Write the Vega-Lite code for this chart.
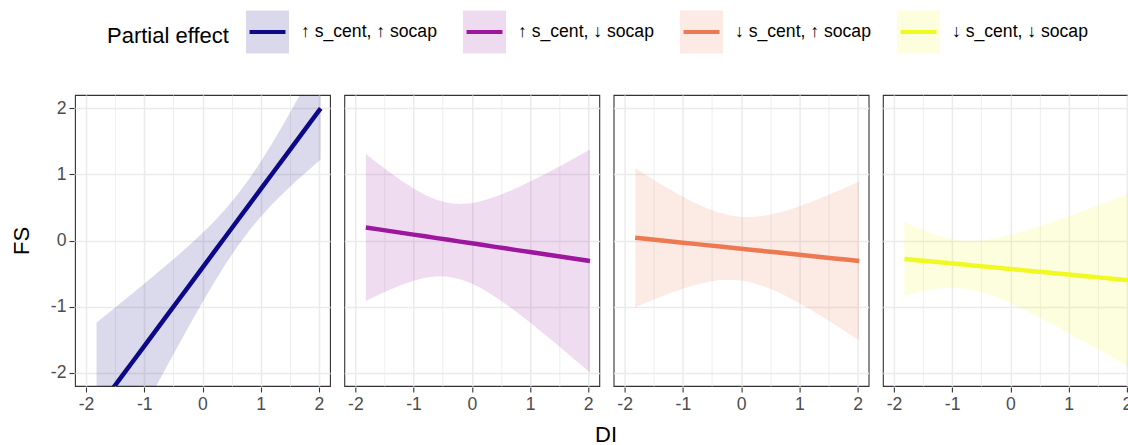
{
  "$schema": "https://vega.github.io/schema/vega-lite/v6.json",
  "background": "white",
  "padding": {"left": 10, "top": 10, "right": 0, "bottom": 0},
  "data": {"values": [
    {"g": "↑ s_cent, ↑ socap", "DI": -1.82, "FS": -2.569, "lo": -3.899, "hi": -1.239},
    {"g": "↑ s_cent, ↑ socap", "DI": -1.6, "FS": -2.308, "lo": -3.532, "hi": -1.084},
    {"g": "↑ s_cent, ↑ socap", "DI": -1.4, "FS": -2.070, "lo": -3.199, "hi": -0.941},
    {"g": "↑ s_cent, ↑ socap", "DI": -1.2, "FS": -1.833, "lo": -2.868, "hi": -0.798},
    {"g": "↑ s_cent, ↑ socap", "DI": -1.0, "FS": -1.596, "lo": -2.538, "hi": -0.654},
    {"g": "↑ s_cent, ↑ socap", "DI": -0.8, "FS": -1.359, "lo": -2.210, "hi": -0.508},
    {"g": "↑ s_cent, ↑ socap", "DI": -0.6, "FS": -1.122, "lo": -1.884, "hi": -0.360},
    {"g": "↑ s_cent, ↑ socap", "DI": -0.4, "FS": -0.884, "lo": -1.561, "hi": -0.207},
    {"g": "↑ s_cent, ↑ socap", "DI": -0.2, "FS": -0.647, "lo": -1.244, "hi": -0.050},
    {"g": "↑ s_cent, ↑ socap", "DI": 0.0, "FS": -0.410, "lo": -0.934, "hi": 0.114},
    {"g": "↑ s_cent, ↑ socap", "DI": 0.2, "FS": -0.173, "lo": -0.635, "hi": 0.289},
    {"g": "↑ s_cent, ↑ socap", "DI": 0.4, "FS": 0.064, "lo": -0.352, "hi": 0.480},
    {"g": "↑ s_cent, ↑ socap", "DI": 0.6, "FS": 0.302, "lo": -0.089, "hi": 0.693},
    {"g": "↑ s_cent, ↑ socap", "DI": 0.8, "FS": 0.539, "lo": 0.148, "hi": 0.930},
    {"g": "↑ s_cent, ↑ socap", "DI": 1.0, "FS": 0.776, "lo": 0.360, "hi": 1.192},
    {"g": "↑ s_cent, ↑ socap", "DI": 1.2, "FS": 1.013, "lo": 0.551, "hi": 1.475},
    {"g": "↑ s_cent, ↑ socap", "DI": 1.4, "FS": 1.250, "lo": 0.726, "hi": 1.774},
    {"g": "↑ s_cent, ↑ socap", "DI": 1.6, "FS": 1.488, "lo": 0.891, "hi": 2.085},
    {"g": "↑ s_cent, ↑ socap", "DI": 1.8, "FS": 1.725, "lo": 1.048, "hi": 2.402},
    {"g": "↑ s_cent, ↑ socap", "DI": 2.03, "FS": 1.998, "lo": 1.223, "hi": 2.773},

    {"g": "↑ s_cent, ↓ socap", "DI": -1.82, "FS": 0.197, "lo": -0.914, "hi": 1.308},
    {"g": "↑ s_cent, ↓ socap", "DI": -1.6, "FS": 0.168, "lo": -0.820, "hi": 1.156},
    {"g": "↑ s_cent, ↓ socap", "DI": -1.4, "FS": 0.142, "lo": -0.739, "hi": 1.023},
    {"g": "↑ s_cent, ↓ socap", "DI": -1.2, "FS": 0.115, "lo": -0.668, "hi": 0.898},
    {"g": "↑ s_cent, ↓ socap", "DI": -1.0, "FS": 0.089, "lo": -0.607, "hi": 0.785},
    {"g": "↑ s_cent, ↓ socap", "DI": -0.8, "FS": 0.063, "lo": -0.563, "hi": 0.689},
    {"g": "↑ s_cent, ↓ socap", "DI": -0.6, "FS": 0.036, "lo": -0.541, "hi": 0.613},
    {"g": "↑ s_cent, ↓ socap", "DI": -0.4, "FS": 0.010, "lo": -0.547, "hi": 0.567},
    {"g": "↑ s_cent, ↓ socap", "DI": -0.2, "FS": -0.017, "lo": -0.585, "hi": 0.551},
    {"g": "↑ s_cent, ↓ socap", "DI": 0.0, "FS": -0.043, "lo": -0.651, "hi": 0.565},
    {"g": "↑ s_cent, ↓ socap", "DI": 0.2, "FS": -0.069, "lo": -0.742, "hi": 0.604},
    {"g": "↑ s_cent, ↓ socap", "DI": 0.4, "FS": -0.096, "lo": -0.852, "hi": 0.660},
    {"g": "↑ s_cent, ↓ socap", "DI": 0.6, "FS": -0.122, "lo": -0.973, "hi": 0.729},
    {"g": "↑ s_cent, ↓ socap", "DI": 0.8, "FS": -0.149, "lo": -1.104, "hi": 0.806},
    {"g": "↑ s_cent, ↓ socap", "DI": 1.0, "FS": -0.175, "lo": -1.241, "hi": 0.891},
    {"g": "↑ s_cent, ↓ socap", "DI": 1.2, "FS": -0.201, "lo": -1.382, "hi": 0.980},
    {"g": "↑ s_cent, ↓ socap", "DI": 1.4, "FS": -0.228, "lo": -1.527, "hi": 1.071},
    {"g": "↑ s_cent, ↓ socap", "DI": 1.6, "FS": -0.254, "lo": -1.674, "hi": 1.166},
    {"g": "↑ s_cent, ↓ socap", "DI": 1.8, "FS": -0.281, "lo": -1.824, "hi": 1.262},
    {"g": "↑ s_cent, ↓ socap", "DI": 2.03, "FS": -0.311, "lo": -1.997, "hi": 1.375},

    {"g": "↓ s_cent, ↑ socap", "DI": -1.82, "FS": 0.042, "lo": -1.010, "hi": 1.094},
    {"g": "↓ s_cent, ↑ socap", "DI": -1.6, "FS": 0.022, "lo": -0.928, "hi": 0.972},
    {"g": "↓ s_cent, ↑ socap", "DI": -1.4, "FS": 0.003, "lo": -0.857, "hi": 0.863},
    {"g": "↓ s_cent, ↑ socap", "DI": -1.2, "FS": -0.015, "lo": -0.790, "hi": 0.760},
    {"g": "↓ s_cent, ↑ socap", "DI": -1.0, "FS": -0.033, "lo": -0.728, "hi": 0.662},
    {"g": "↓ s_cent, ↑ socap", "DI": -0.8, "FS": -0.051, "lo": -0.673, "hi": 0.571},
    {"g": "↓ s_cent, ↑ socap", "DI": -0.6, "FS": -0.070, "lo": -0.631, "hi": 0.491},
    {"g": "↓ s_cent, ↑ socap", "DI": -0.4, "FS": -0.088, "lo": -0.602, "hi": 0.426},
    {"g": "↓ s_cent, ↑ socap", "DI": -0.2, "FS": -0.106, "lo": -0.592, "hi": 0.380},
    {"g": "↓ s_cent, ↑ socap", "DI": 0.0, "FS": -0.125, "lo": -0.605, "hi": 0.355},
    {"g": "↓ s_cent, ↑ socap", "DI": 0.2, "FS": -0.143, "lo": -0.640, "hi": 0.354},
    {"g": "↓ s_cent, ↑ socap", "DI": 0.4, "FS": -0.161, "lo": -0.696, "hi": 0.374},
    {"g": "↓ s_cent, ↑ socap", "DI": 0.6, "FS": -0.179, "lo": -0.769, "hi": 0.411},
    {"g": "↓ s_cent, ↑ socap", "DI": 0.8, "FS": -0.198, "lo": -0.855, "hi": 0.459},
    {"g": "↓ s_cent, ↑ socap", "DI": 1.0, "FS": -0.216, "lo": -0.950, "hi": 0.518},
    {"g": "↓ s_cent, ↑ socap", "DI": 1.2, "FS": -0.234, "lo": -1.051, "hi": 0.583},
    {"g": "↓ s_cent, ↑ socap", "DI": 1.4, "FS": -0.252, "lo": -1.157, "hi": 0.653},
    {"g": "↓ s_cent, ↑ socap", "DI": 1.6, "FS": -0.271, "lo": -1.267, "hi": 0.725},
    {"g": "↓ s_cent, ↑ socap", "DI": 1.8, "FS": -0.289, "lo": -1.379, "hi": 0.801},
    {"g": "↓ s_cent, ↑ socap", "DI": 2.03, "FS": -0.310, "lo": -1.511, "hi": 0.891},

    {"g": "↓ s_cent, ↓ socap", "DI": -1.82, "FS": -0.278, "lo": -0.834, "hi": 0.278},
    {"g": "↓ s_cent, ↓ socap", "DI": -1.6, "FS": -0.297, "lo": -0.784, "hi": 0.190},
    {"g": "↓ s_cent, ↓ socap", "DI": -1.4, "FS": -0.313, "lo": -0.746, "hi": 0.120},
    {"g": "↓ s_cent, ↓ socap", "DI": -1.2, "FS": -0.330, "lo": -0.722, "hi": 0.062},
    {"g": "↓ s_cent, ↓ socap", "DI": -1.0, "FS": -0.347, "lo": -0.713, "hi": 0.019},
    {"g": "↓ s_cent, ↓ socap", "DI": -0.8, "FS": -0.364, "lo": -0.725, "hi": -0.003},
    {"g": "↓ s_cent, ↓ socap", "DI": -0.6, "FS": -0.381, "lo": -0.758, "hi": -0.004},
    {"g": "↓ s_cent, ↓ socap", "DI": -0.4, "FS": -0.397, "lo": -0.807, "hi": 0.013},
    {"g": "↓ s_cent, ↓ socap", "DI": -0.2, "FS": -0.414, "lo": -0.873, "hi": 0.045},
    {"g": "↓ s_cent, ↓ socap", "DI": 0.0, "FS": -0.431, "lo": -0.948, "hi": 0.086},
    {"g": "↓ s_cent, ↓ socap", "DI": 0.2, "FS": -0.448, "lo": -1.031, "hi": 0.135},
    {"g": "↓ s_cent, ↓ socap", "DI": 0.4, "FS": -0.465, "lo": -1.118, "hi": 0.188},
    {"g": "↓ s_cent, ↓ socap", "DI": 0.6, "FS": -0.481, "lo": -1.209, "hi": 0.247},
    {"g": "↓ s_cent, ↓ socap", "DI": 0.8, "FS": -0.498, "lo": -1.303, "hi": 0.307},
    {"g": "↓ s_cent, ↓ socap", "DI": 1.0, "FS": -0.515, "lo": -1.398, "hi": 0.368},
    {"g": "↓ s_cent, ↓ socap", "DI": 1.2, "FS": -0.532, "lo": -1.496, "hi": 0.432},
    {"g": "↓ s_cent, ↓ socap", "DI": 1.4, "FS": -0.549, "lo": -1.594, "hi": 0.496},
    {"g": "↓ s_cent, ↓ socap", "DI": 1.6, "FS": -0.565, "lo": -1.692, "hi": 0.562},
    {"g": "↓ s_cent, ↓ socap", "DI": 1.8, "FS": -0.582, "lo": -1.792, "hi": 0.628},
    {"g": "↓ s_cent, ↓ socap", "DI": 2.03, "FS": -0.602, "lo": -1.908, "hi": 0.704}
  ]},
  "spacing": 12.3,
  "facet": {
    "column": {
      "field": "g", "type": "nominal", "title": "DI",
      "sort": ["↑ s_cent, ↑ socap", "↑ s_cent, ↓ socap", "↓ s_cent, ↑ socap", "↓ s_cent, ↓ socap"],
      "header": {"labels": false, "titleOrient": "bottom", "titleFont": "Liberation Sans", "titleFontSize": 22, "titleFontWeight": "normal", "titleColor": "black", "titlePadding": 2}
    }
  },
  "spec": {
    "width": 255,
    "height": 291,
    "encoding": {
      "x": {
        "field": "DI", "type": "quantitative", "title": null,
        "scale": {"domain": [-2.19, 2.19], "nice": false, "zero": false},
        "axis": {
          "values": [-2, -1.5, -1, -0.5, 0, 0.5, 1, 1.5, 2],
          "labelExpr": "datum.value % 1 === 0 ? '' + datum.value : ''",
          "gridWidth": {"condition": {"test": "datum.value % 1 === 0", "value": 1.5}, "value": 0.8},
          "tickOpacity": {"condition": {"test": "datum.value % 1 === 0", "value": 1}, "value": 0}
        }
      }
    },
    "layer": [
      {
        "mark": {"type": "area", "opacity": 0.15, "clip": true},
        "encoding": {
          "y": {"field": "lo", "type": "quantitative", "title": "FS",
            "scale": {"domain": [-2.2, 2.2], "nice": false, "zero": false},
            "axis": {
              "values": [-2, -1.5, -1, -0.5, 0, 0.5, 1, 1.5, 2],
              "labelExpr": "datum.value % 1 === 0 ? '' + datum.value : ''",
              "gridWidth": {"condition": {"test": "datum.value % 1 === 0", "value": 1.5}, "value": 0.8},
              "tickOpacity": {"condition": {"test": "datum.value % 1 === 0", "value": 1}, "value": 0}
            }
          },
          "y2": {"field": "hi"},
          "fill": {
            "field": "g", "type": "nominal",
            "scale": {"domain": ["↑ s_cent, ↑ socap", "↑ s_cent, ↓ socap", "↓ s_cent, ↑ socap", "↓ s_cent, ↓ socap"], "range": ["#0D0887", "#9C179E", "#ED7953", "#F0F921"]},
            "legend": {
              "orient": "none", "legendX": 32, "legendY": -85, "direction": "horizontal",
              "title": "Partial effect", "titleOrient": "left", "titleFont": "Liberation Sans", "titleFontSize": 22, "titleFontWeight": "normal", "titleColor": "black", "titlePadding": 17, "titleAnchor": "middle", "titleBaseline": "middle",
              "symbolType": "M-1.1026,-1.1026H1.1026V1.1026H-1.1026Z", "symbolSize": 1521, "symbolOpacity": 0.15, "symbolStrokeWidth": 4, "symbolStrokeColor": "transparent",
              "labelFont": "Liberation Sans", "labelFontSize": 17.6, "labelColor": "black", "labelOffset": 12, "labelLimit": 400, "columnPadding": 17,
              "zindex": 0
            }
          }
        }
      },
      {
        "mark": {"type": "line", "strokeWidth": 4.5, "clip": true},
        "encoding": {
          "y": {"field": "FS", "type": "quantitative"},
          "stroke": {
            "field": "g", "type": "nominal",
            "scale": {"range": ["#0D0887", "#9C179E", "#ED7953", "#F0F921"]},
            "legend": {
              "orient": "none", "legendX": 32, "legendY": -85, "direction": "horizontal",
              "title": "Partial effect", "titleOrient": "left", "titleFont": "Liberation Sans", "titleFontSize": 22, "titleFontWeight": "normal", "titleColor": "transparent", "titlePadding": 17, "titleAnchor": "middle", "titleBaseline": "middle",
              "symbolType": "M-1.1026,-1.1026M1.1026,1.1026M-0.92,0H0.92", "symbolSize": 1521, "symbolStrokeWidth": 4, "symbolOpacity": 1,
              "labelFont": "Liberation Sans", "labelFontSize": 17.6, "labelColor": "transparent", "labelOffset": 12, "labelLimit": 400, "columnPadding": 17,
              "zindex": 1
            }
          }
        }
      }
    ]
  },
  "config": {
    "font": "Liberation Sans",
    "view": {"stroke": "#333333", "strokeWidth": 1.1},
    "axis": {
      "domain": false,
      "gridColor": "#EBEBEB",
      "tickColor": "#333333", "tickSize": 5, "tickWidth": 1.1,
      "labelFont": "Liberation Sans", "labelFontSize": 17.6, "labelColor": "#4D4D4D", "labelPadding": 3, "labelOverlap": false, "labelFlush": false,
      "titleFont": "Liberation Sans", "titleFontSize": 22, "titleFontWeight": "normal", "titleColor": "black", "titlePadding": 17
    }
  }
}
